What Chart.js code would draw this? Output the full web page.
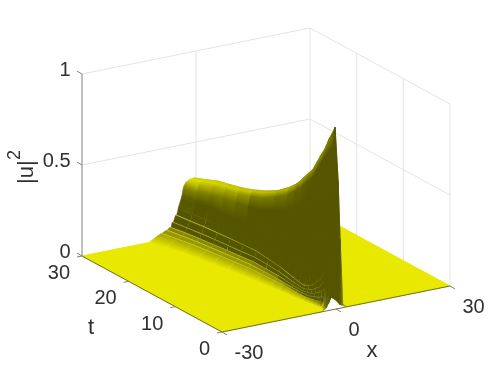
<!DOCTYPE html>
<html>
<head>
<meta charset="utf-8">
<style>
  html, body { margin: 0; padding: 0; background: #fff; }
  canvas { display: block; }
</style>
<script src="https://cdn.jsdelivr.net/npm/chart.js"></script>
</head>
<body>
<canvas id="grafico" width="498" height="374"></canvas>
<script>
// Filas de la superficie. Cada columna sigue un rasgo del perfil:
// pie, cinco ondulaciones (inicio, fin), flanco, hombro, cresta, bajada derecha
const tRows = [30, 27.5, 25, 22.5, 20, 17.5, 15, 12.5, 10, 8.5, 7, 6, 5, 4.2, 3.5, 2.8, 2, 1.5, 1, 0];
const xRows = [
  [-12.5, -9.3, -9.0, -7.9, -7.6, -6.9, -6.6, -6.3, -6.0, -5.4, -5.1, -4.7, -3.8, -3.3, -2.7, -1.7, -0.5, 1.5, 2.7, 4.5],
  [-11.0, -8.2, -7.95, -6.95, -6.7, -6.05, -5.8, -5.55, -5.3, -4.75, -4.5, -4.1, -3.4, -2.9, -2.3, -1.5, -0.45, 1.5, 2.7, 4.45],
  [-9.8, -7.25, -7.0, -6.15, -5.9, -5.35, -5.1, -4.85, -4.6, -4.15, -3.9, -3.5, -2.9, -2.4, -1.8, -1.1, -0.4, 1.5, 2.7, 4.4],
  [-8.9, -6.5, -6.3, -5.55, -5.35, -4.8, -4.6, -4.35, -4.15, -3.7, -3.5, -3.15, -2.6, -2.05, -1.5, -0.95, -0.3, 1.45, 2.65, 4.3],
  [-8.0, -5.9, -5.7, -5.0, -4.8, -4.3, -4.1, -3.9, -3.7, -3.3, -3.1, -2.8, -2.3, -1.8, -1.3, -0.8, -0.2, 1.4, 2.6, 4.2],
  [-7.1, -5.25, -5.1, -4.45, -4.3, -3.85, -3.7, -3.5, -3.35, -2.95, -2.8, -2.5, -2.05, -1.55, -1.1, -0.65, -0.1, 1.4, 2.55, 4.1],
  [-6.3, -4.65, -4.5, -3.95, -3.8, -3.45, -3.3, -3.1, -2.95, -2.65, -2.5, -2.25, -1.8, -1.3, -0.9, -0.5, 0, 1.4, 2.5, 4.0],
  [-5.55, -4.15, -4.05, -3.6, -3.48, -3.15, -3.05, -2.85, -2.75, -2.5, -2.4, -2.15, -1.65, -1.15, -0.75, -0.38, 0.1, 1.45, 2.5, 3.9],
  [-4.9, -3.8, -3.7, -3.3, -3.2, -2.95, -2.85, -2.7, -2.6, -2.4, -2.3, -2.05, -1.5, -1.0, -0.6, -0.25, 0.2, 1.5, 2.5, 3.8],
  [-4.55, -3.55, -3.47, -3.17, -3.08, -2.9, -2.8, -2.67, -2.58, -2.4, -2.3, -2.02, -1.45, -0.92, -0.52, -0.17, 0.25, 1.5, 2.45, 3.7],
  [-4.2, -3.38, -3.3, -3.08, -3.0, -2.83, -2.75, -2.63, -2.55, -2.38, -2.3, -2.0, -1.4, -0.85, -0.45, -0.1, 0.3, 1.5, 2.4, 3.6],
  [-4.0, -3.2, -3.13, -2.93, -2.86, -2.71, -2.64, -2.51, -2.44, -2.3, -2.23, -1.9, -1.3, -0.72, -0.32, 0.03, 0.4, 1.5, 2.35, 3.5],
  [-3.8, -3.07, -3.0, -2.82, -2.75, -2.62, -2.55, -2.42, -2.35, -2.22, -2.15, -1.8, -1.2, -0.6, -0.2, 0.15, 0.5, 1.5, 2.3, 3.4],
  [-3.55, -2.88, -2.82, -2.66, -2.6, -2.46, -2.4, -2.27, -2.21, -2.08, -2.02, -1.7, -1.1, -0.5, -0.1, 0.22, 0.55, 1.5, 2.3, 3.35],
  [-3.3, -2.71, -2.65, -2.51, -2.45, -2.31, -2.25, -2.11, -2.05, -1.96, -1.9, -1.6, -1.0, -0.4, 0, 0.3, 0.6, 1.5, 2.3, 3.3],
  [-3.1, -2.53, -2.48, -2.33, -2.28, -2.15, -2.1, -1.98, -1.93, -1.81, -1.76, -1.43, -0.85, -0.28, 0.12, 0.42, 0.7, 1.55, 2.3, 3.25],
  [-2.9, -2.35, -2.3, -2.15, -2.1, -2.0, -1.95, -1.85, -1.8, -1.65, -1.6, -1.25, -0.7, -0.15, 0.25, 0.55, 0.8, 1.6, 2.3, 3.2],
  [-2.75, -2.24, -2.2, -2.07, -2.03, -1.92, -1.88, -1.77, -1.73, -1.6, -1.55, -1.18, -0.6, -0.02, 0.38, 0.68, 0.9, 1.7, 2.3, 3.1],
  [-2.6, -2.14, -2.1, -1.99, -1.95, -1.84, -1.8, -1.69, -1.65, -1.54, -1.5, -1.1, -0.5, 0.1, 0.5, 0.8, 1.0, 1.8, 2.3, 3.0],
  [-3.7, -3.05, -3.0, -2.85, -2.8, -2.65, -2.6, -2.45, -2.4, -2.25, -2.2, -1.9, -1.7, -1.5, -1.4, -1.35, -1.3, -0.3, 1.0, 2.9]
];
const uRows = [
  [0, .036, .036, .048, .048, .06, .06, .085, .085, .12, .12, .155, .21, .265, .29, .302, .305, .26, .12, 0],
  [0, .036, .036, .048, .048, .06, .06, .085, .085, .12, .12, .155, .22, .27, .31, .325, .33, .28, .125, 0],
  [0, .036, .036, .048, .048, .06, .06, .085, .085, .12, .12, .16, .23, .285, .33, .35, .357, .30, .13, 0],
  [0, .036, .036, .048, .048, .061, .061, .085, .085, .12, .12, .155, .225, .30, .345, .365, .372, .315, .13, 0],
  [0, .036, .036, .048, .048, .062, .062, .085, .085, .12, .12, .155, .23, .31, .36, .38, .388, .33, .13, 0],
  [0, .036, .036, .049, .049, .063, .063, .086, .086, .12, .12, .155, .24, .325, .38, .405, .411, .35, .13, 0],
  [0, .036, .036, .05, .05, .065, .065, .088, .088, .12, .12, .15, .24, .34, .405, .435, .44, .37, .13, 0],
  [0, .033, .033, .046, .046, .06, .06, .082, .082, .11, .11, .148, .25, .375, .445, .47, .476, .395, .13, 0],
  [0, .03, .03, .042, .042, .055, .055, .075, .075, .10, .10, .14, .26, .41, .49, .525, .53, .42, .13, 0],
  [0, .027, .027, .038, .038, .05, .05, .068, .068, .09, .09, .135, .27, .44, .53, .565, .57, .45, .13, 0],
  [0, .025, .025, .035, .035, .045, .045, .06, .06, .08, .08, .13, .28, .47, .575, .62, .626, .48, .13, 0],
  [0, .022, .022, .032, .032, .042, .042, .055, .055, .072, .072, .125, .29, .50, .615, .66, .665, .50, .135, 0],
  [0, .02, .02, .03, .03, .04, .04, .052, .052, .068, .068, .12, .30, .53, .65, .70, .705, .52, .14, 0],
  [0, .02, .02, .03, .03, .042, .042, .058, .058, .078, .078, .14, .325, .565, .695, .75, .755, .535, .145, 0],
  [0, .02, .02, .03, .03, .045, .045, .065, .065, .09, .09, .16, .35, .60, .74, .795, .80, .55, .15, 0],
  [0, .022, .022, .037, .037, .057, .057, .082, .082, .115, .115, .19, .375, .63, .785, .835, .84, .58, .175, 0],
  [0, .025, .025, .045, .045, .07, .07, .10, .10, .14, .14, .22, .40, .66, .83, .90, .91, .60, .20, 0],
  [0, .027, .027, .052, .052, .085, .085, .125, .125, .17, .17, .245, .41, .67, .85, .93, .943, .64, .28, 0],
  [0, .03, .03, .06, .06, .10, .10, .15, .15, .20, .20, .27, .42, .68, .87, .96, .98, .68, .36, 0],
  [0, .008, .008, .012, .012, .016, .016, .022, .022, .03, .03, .04, .05, .06, .066, .069, .07, .055, .02, 0]
];

const xTicks = [-30, 0, 30];
const tTicks = [0, 10, 20, 30];
const uTicks = [0, 0.5, 1];

// Tono minimo de las franjas de ondulacion: subida oscura, linea fina clara
const sombraOndas = [0.45, 0.15, 0.55, 0.2, 0.65, 0.25, 0.75, 0.28, 0.9, 0.2];

const ctx = document.getElementById('grafico').getContext('2d');

// Vista fija de la caja 3D, en pixeles de la ventana
function proyectar(x, t, u) {
  const a = (x + 30) / 60, b = (30 - t) / 30;
  return { x: 82 + 228 * a + 140 * b, y: 256 - 46 * a + 76 * b - 182 * u };
}

function linea(puntos, color, ancho) {
  return { data: puntos, showLine: true, fill: false, borderColor: color, borderWidth: ancho, pointRadius: 0 };
}

// Pendiente de cada celda; t va por dos porque la caja mide lo mismo con la mitad de rango
function pendiente(p00, p10, p01, p11) {
  const d1 = [p11[0] - p00[0], 2 * (p11[1] - p00[1]), p11[2] - p00[2]];
  const d2 = [p10[0] - p01[0], 2 * (p10[1] - p01[1]), p10[2] - p01[2]];
  const nx = d1[1] * d2[2] - d1[2] * d2[1];
  const ny = d1[2] * d2[0] - d1[0] * d2[2];
  const nz = d1[0] * d2[1] - d1[1] * d2[0];
  return Math.sqrt(nx * nx + ny * ny) / Math.max(Math.abs(nz), 1e-6);
}

function tono(s) {
  const c = Math.round(232 - (232 - 85) * s);
  return `rgb(${c},${c},0)`;
}

// Degradado a traves de la celda, perpendicular a su borde izquierdo
function colorCelda(q, s0, s1) {
  const lx = (q[0].x + q[3].x) / 2, ly = (q[0].y + q[3].y) / 2;
  const rx = (q[1].x + q[2].x) / 2, ry = (q[1].y + q[2].y) / 2;
  const ex = q[3].x - q[0].x, ey = q[3].y - q[0].y;
  const el = Math.hypot(ex, ey) || 1;
  const nx = -ey / el, ny = ex / el;
  const d = (rx - lx) * nx + (ry - ly) * ny;
  if (Math.abs(d) < 0.05) return tono((s0 + s1) / 2);
  const g = ctx.createLinearGradient(lx, ly, lx + nx * d, ly + ny * d);
  g.addColorStop(0, tono(s0));
  g.addColorStop(1, tono(s1));
  return g;
}

const capas = [];

// Paredes del fondo
uTicks.slice(1).forEach(u => {
  capas.push(linea([proyectar(-30, 30, u), proyectar(30, 30, u), proyectar(30, 0, u)], '#e4e4e4', 1));
});
xTicks.slice(1).forEach(x => {
  capas.push(linea([proyectar(x, 30, 0), proyectar(x, 30, 1)], '#e4e4e4', 1));
});
tTicks.slice(0, 3).forEach(t => {
  capas.push(linea([proyectar(30, t, 0), proyectar(30, t, 1)], '#e4e4e4', 1));
});

// Superficie: de atras hacia adelante y de derecha a izquierda
for (let j = 0; j < tRows.length - 1; j++) {
  const xa = [-30, ...xRows[j], 30], ua = [0, ...uRows[j], 0];
  const xb = [-30, ...xRows[j + 1], 30], ub = [0, ...uRows[j + 1], 0];
  const ta = tRows[j], tb = tRows[j + 1];
  const ultima = xa.length - 2;
  const sombras = [];
  for (let i = 0; i <= ultima; i++) {
    const g = pendiente([xa[i], ta, ua[i]], [xa[i + 1], ta, ua[i + 1]], [xb[i], tb, ub[i]], [xb[i + 1], tb, ub[i + 1]]);
    if (i >= 1 && i <= 10) sombras.push(Math.max(sombraOndas[i - 1], Math.min(g / 0.06, 1)));
    else if (i >= 14 && i <= 16) sombras.push(Math.min(g / 0.14, 1));
    else sombras.push(Math.min(g / 0.08, 1));
  }
  for (let i = ultima; i >= 0; i--) {
    const q = [proyectar(xa[i], ta, ua[i]), proyectar(xa[i + 1], ta, ua[i + 1]), proyectar(xb[i + 1], tb, ub[i + 1]), proyectar(xb[i], tb, ub[i])];
    let c = tono(sombras[i]);
    if (i === 1) {
      c = colorCelda(q, 0, sombras[1]);
    } else if (i >= 12 && i < ultima) {
      c = colorCelda(q, (sombras[i - 1] + sombras[i]) / 2, (sombras[i] + sombras[i + 1]) / 2);
    }
    let ancho = 0.7;
    if (i === 0 || i === ultima) ancho = 1;
    else if (i <= 11) ancho = 0.3;
    capas.push({
      data: [q[0], q[1], q[2], q[3], q[0]],
      showLine: true, fill: 'shape', backgroundColor: c, borderColor: c,
      borderWidth: ancho, pointRadius: 0
    });
  }
}

// Ejes y marcas
capas.push(linea([proyectar(-30, 30, 0), proyectar(-30, 30, 1)], '#808080', 1));
capas.push(linea([proyectar(-30, 30, 0), proyectar(-30, 0, 0), proyectar(30, 0, 0)], '#6e6e3a', 1));
uTicks.forEach(u => {
  const p = proyectar(-30, 30, u);
  capas.push(linea([p, { x: p.x - 5, y: p.y - 2.9 }], '#808080', 1));
});
tTicks.forEach(t => {
  const p = proyectar(-30, t, 0);
  capas.push(linea([p, { x: p.x - 5, y: p.y + 1 }], '#808080', 1));
});
xTicks.forEach(x => {
  const p = proyectar(x, 0, 0);
  capas.push(linea([p, { x: p.x + 5, y: p.y + 2.9 }], '#808080', 1));
});

// Textos de ejes
const textos = {
  id: 'textos',
  afterDatasetsDraw(chart) {
    const c = chart.ctx;
    c.save();
    c.fillStyle = '#303030';
    c.textBaseline = 'middle';
    c.font = '20px "Liberation Sans"';
    c.textAlign = 'right';
    uTicks.forEach(u => {
      const p = proyectar(-30, 30, u);
      c.fillText(String(u), 70.5, p.y - 3.5);
    });
    tTicks.forEach(t => {
      const p = proyectar(-30, t, 0);
      c.fillText(String(t), p.x - 12, p.y + 17.5);
    });
    c.textAlign = 'left';
    xTicks.forEach(x => {
      const p = proyectar(x, 0, 0);
      c.fillText(String(x), p.x + 12.5, p.y + 21);
    });
    c.textAlign = 'center';
    c.textBaseline = 'alphabetic';
    c.font = '22px "Liberation Sans"';
    c.fillText('x', 372, 357);
    c.fillText('t', 91, 334);
    c.translate(33, 184);
    c.rotate(-Math.PI / 2);
    c.textAlign = 'left';
    c.fillText('|u|', 0, 0);
    c.font = '18px "Liberation Sans"';
    c.fillText('2', 24, -13);
    c.restore();
  }
};

// El primer dataset queda encima, por eso se invierte
new Chart(ctx, {
  type: 'scatter',
  data: { datasets: capas.reverse() },
  options: {
    responsive: false,
    animation: false,
    layout: { padding: 0 },
    plugins: { legend: { display: false }, tooltip: { enabled: false }, title: { display: false } },
    scales: {
      x: { type: 'linear', min: 0, max: 498, display: false },
      y: { type: 'linear', min: 0, max: 374, reverse: true, display: false }
    }
  },
  plugins: [textos]
});
</script>
</body>
</html>
